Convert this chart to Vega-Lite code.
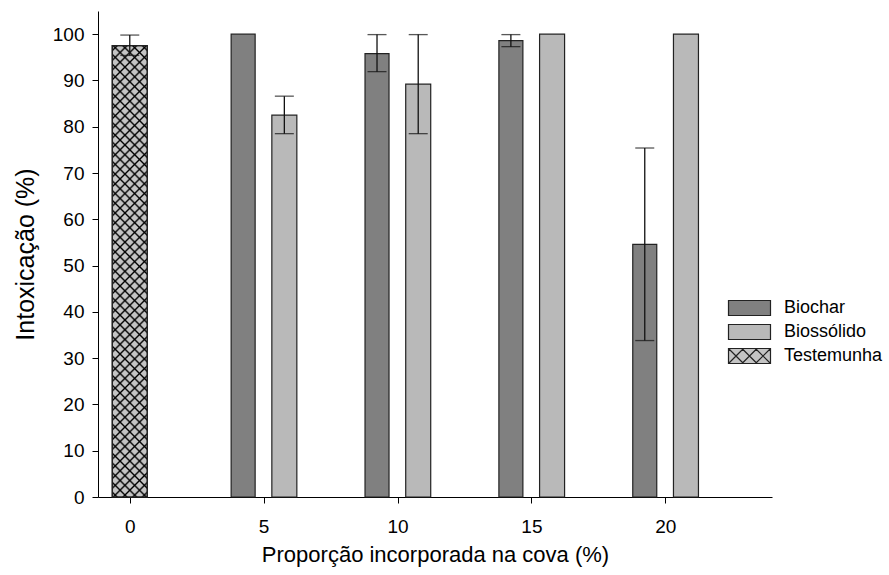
{
  "$schema": "https://vega.github.io/schema/vega-lite/v6.json",
  "width": 674,
  "height": 486,
  "autosize": {"type": "none"},
  "padding": {"left": 98, "top": 11, "right": 117, "bottom": 78},
  "background": "white",
  "config": {
    "font": "Liberation Sans",
    "view": {"stroke": null},
    "axis": {
      "grid": false,
      "domainColor": "#000000",
      "domainWidth": 1,
      "tickColor": "#000000",
      "tickWidth": 1,
      "tickSize": 6,
      "labelColor": "#000000",
      "labelFontSize": 19,
      "titleColor": "#000000",
      "titleFontWeight": "normal"
    }
  },
  "data": {
    "values": [
      {"proporcao": 0, "tratamento": "Testemunha", "media": 97.5, "inf": 95.4, "sup": 99.8},
      {"proporcao": 5, "tratamento": "Biochar", "media": 100, "inf": null, "sup": null},
      {"proporcao": 5, "tratamento": "Biossólido", "media": 82.5, "inf": 78.5, "sup": 86.6},
      {"proporcao": 10, "tratamento": "Biochar", "media": 95.8, "inf": 91.9, "sup": 99.9},
      {"proporcao": 10, "tratamento": "Biossólido", "media": 89.2, "inf": 78.5, "sup": 99.9},
      {"proporcao": 15, "tratamento": "Biochar", "media": 98.6, "inf": 97.3, "sup": 99.9},
      {"proporcao": 15, "tratamento": "Biossólido", "media": 100, "inf": null, "sup": null},
      {"proporcao": 20, "tratamento": "Biochar", "media": 54.6, "inf": 33.8, "sup": 75.4},
      {"proporcao": 20, "tratamento": "Biossólido", "media": 100, "inf": null, "sup": null}
    ]
  },
  "encoding": {
    "x": {
      "field": "proporcao",
      "type": "quantitative",
      "scale": {"domain": [-1, 23.8], "nice": false, "zero": false},
      "axis": {"values": [0, 5, 10, 15, 20], "labelPadding": 14, "title": "Proporção incorporada na cova (%)", "titleFontSize": 22, "titlePadding": 8}
    }
  },
  "layer": [
    {
      "transform": [{"filter": "datum.tratamento === 'Testemunha'"}],
      "mark": {"type": "bar", "width": 35, "xOffset": 0, "stroke": "#222222", "strokeWidth": 1.2,
        "fill": {"gradient": "linear", "x1": 0, "y1": 0, "x2": 0.0831, "y2": 1.0712, "stops": [
          {"offset":0.006,"color":"#c4c4c4"},{"offset":0.01,"color":"#000"},{"offset":0.014,"color":"#c4c4c4"},
          {"offset":0.026,"color":"#c4c4c4"},{"offset":0.03,"color":"#000"},{"offset":0.034,"color":"#c4c4c4"},
          {"offset":0.046,"color":"#c4c4c4"},{"offset":0.05,"color":"#000"},{"offset":0.054,"color":"#c4c4c4"},
          {"offset":0.066,"color":"#c4c4c4"},{"offset":0.07,"color":"#000"},{"offset":0.074,"color":"#c4c4c4"},
          {"offset":0.086,"color":"#c4c4c4"},{"offset":0.09,"color":"#000"},{"offset":0.094,"color":"#c4c4c4"},
          {"offset":0.106,"color":"#c4c4c4"},{"offset":0.11,"color":"#000"},{"offset":0.114,"color":"#c4c4c4"},
          {"offset":0.126,"color":"#c4c4c4"},{"offset":0.13,"color":"#000"},{"offset":0.134,"color":"#c4c4c4"},
          {"offset":0.146,"color":"#c4c4c4"},{"offset":0.15,"color":"#000"},{"offset":0.154,"color":"#c4c4c4"},
          {"offset":0.166,"color":"#c4c4c4"},{"offset":0.17,"color":"#000"},{"offset":0.174,"color":"#c4c4c4"},
          {"offset":0.186,"color":"#c4c4c4"},{"offset":0.19,"color":"#000"},{"offset":0.194,"color":"#c4c4c4"},
          {"offset":0.206,"color":"#c4c4c4"},{"offset":0.21,"color":"#000"},{"offset":0.214,"color":"#c4c4c4"},
          {"offset":0.226,"color":"#c4c4c4"},{"offset":0.23,"color":"#000"},{"offset":0.234,"color":"#c4c4c4"},
          {"offset":0.246,"color":"#c4c4c4"},{"offset":0.25,"color":"#000"},{"offset":0.254,"color":"#c4c4c4"},
          {"offset":0.266,"color":"#c4c4c4"},{"offset":0.27,"color":"#000"},{"offset":0.274,"color":"#c4c4c4"},
          {"offset":0.286,"color":"#c4c4c4"},{"offset":0.29,"color":"#000"},{"offset":0.294,"color":"#c4c4c4"},
          {"offset":0.306,"color":"#c4c4c4"},{"offset":0.31,"color":"#000"},{"offset":0.314,"color":"#c4c4c4"},
          {"offset":0.326,"color":"#c4c4c4"},{"offset":0.33,"color":"#000"},{"offset":0.334,"color":"#c4c4c4"},
          {"offset":0.346,"color":"#c4c4c4"},{"offset":0.35,"color":"#000"},{"offset":0.354,"color":"#c4c4c4"},
          {"offset":0.366,"color":"#c4c4c4"},{"offset":0.37,"color":"#000"},{"offset":0.374,"color":"#c4c4c4"},
          {"offset":0.386,"color":"#c4c4c4"},{"offset":0.39,"color":"#000"},{"offset":0.394,"color":"#c4c4c4"},
          {"offset":0.406,"color":"#c4c4c4"},{"offset":0.41,"color":"#000"},{"offset":0.414,"color":"#c4c4c4"},
          {"offset":0.426,"color":"#c4c4c4"},{"offset":0.43,"color":"#000"},{"offset":0.434,"color":"#c4c4c4"},
          {"offset":0.446,"color":"#c4c4c4"},{"offset":0.45,"color":"#000"},{"offset":0.454,"color":"#c4c4c4"},
          {"offset":0.466,"color":"#c4c4c4"},{"offset":0.47,"color":"#000"},{"offset":0.474,"color":"#c4c4c4"},
          {"offset":0.486,"color":"#c4c4c4"},{"offset":0.49,"color":"#000"},{"offset":0.494,"color":"#c4c4c4"},
          {"offset":0.506,"color":"#c4c4c4"},{"offset":0.51,"color":"#000"},{"offset":0.514,"color":"#c4c4c4"},
          {"offset":0.526,"color":"#c4c4c4"},{"offset":0.53,"color":"#000"},{"offset":0.534,"color":"#c4c4c4"},
          {"offset":0.546,"color":"#c4c4c4"},{"offset":0.55,"color":"#000"},{"offset":0.554,"color":"#c4c4c4"},
          {"offset":0.566,"color":"#c4c4c4"},{"offset":0.57,"color":"#000"},{"offset":0.574,"color":"#c4c4c4"},
          {"offset":0.586,"color":"#c4c4c4"},{"offset":0.59,"color":"#000"},{"offset":0.594,"color":"#c4c4c4"},
          {"offset":0.606,"color":"#c4c4c4"},{"offset":0.61,"color":"#000"},{"offset":0.614,"color":"#c4c4c4"},
          {"offset":0.626,"color":"#c4c4c4"},{"offset":0.63,"color":"#000"},{"offset":0.634,"color":"#c4c4c4"},
          {"offset":0.646,"color":"#c4c4c4"},{"offset":0.65,"color":"#000"},{"offset":0.654,"color":"#c4c4c4"},
          {"offset":0.666,"color":"#c4c4c4"},{"offset":0.67,"color":"#000"},{"offset":0.674,"color":"#c4c4c4"},
          {"offset":0.686,"color":"#c4c4c4"},{"offset":0.69,"color":"#000"},{"offset":0.694,"color":"#c4c4c4"},
          {"offset":0.706,"color":"#c4c4c4"},{"offset":0.71,"color":"#000"},{"offset":0.714,"color":"#c4c4c4"},
          {"offset":0.726,"color":"#c4c4c4"},{"offset":0.73,"color":"#000"},{"offset":0.734,"color":"#c4c4c4"},
          {"offset":0.746,"color":"#c4c4c4"},{"offset":0.75,"color":"#000"},{"offset":0.754,"color":"#c4c4c4"},
          {"offset":0.766,"color":"#c4c4c4"},{"offset":0.77,"color":"#000"},{"offset":0.774,"color":"#c4c4c4"},
          {"offset":0.786,"color":"#c4c4c4"},{"offset":0.79,"color":"#000"},{"offset":0.794,"color":"#c4c4c4"},
          {"offset":0.806,"color":"#c4c4c4"},{"offset":0.81,"color":"#000"},{"offset":0.814,"color":"#c4c4c4"},
          {"offset":0.826,"color":"#c4c4c4"},{"offset":0.83,"color":"#000"},{"offset":0.834,"color":"#c4c4c4"},
          {"offset":0.846,"color":"#c4c4c4"},{"offset":0.85,"color":"#000"},{"offset":0.854,"color":"#c4c4c4"},
          {"offset":0.866,"color":"#c4c4c4"},{"offset":0.87,"color":"#000"},{"offset":0.874,"color":"#c4c4c4"},
          {"offset":0.886,"color":"#c4c4c4"},{"offset":0.89,"color":"#000"},{"offset":0.894,"color":"#c4c4c4"},
          {"offset":0.906,"color":"#c4c4c4"},{"offset":0.91,"color":"#000"},{"offset":0.914,"color":"#c4c4c4"},
          {"offset":0.926,"color":"#c4c4c4"},{"offset":0.93,"color":"#000"},{"offset":0.934,"color":"#c4c4c4"},
          {"offset":0.946,"color":"#c4c4c4"},{"offset":0.95,"color":"#000"},{"offset":0.954,"color":"#c4c4c4"},
          {"offset":0.966,"color":"#c4c4c4"},{"offset":0.97,"color":"#000"},{"offset":0.974,"color":"#c4c4c4"},
          {"offset":0.986,"color":"#c4c4c4"},{"offset":0.99,"color":"#000"},{"offset":0.994,"color":"#c4c4c4"}
        ]}},
      "encoding": {
        "y": {"field": "media", "type": "quantitative", "scale": {"domain": [0, 105], "nice": false}, "axis": {"values": [0, 10, 20, 30, 40, 50, 60, 70, 80, 90, 100], "labelPadding": 8, "title": "Intoxicação (%)", "titleFontSize": 25, "titlePadding": 14}}
      }
    },
    {
      "transform": [{"filter": "datum.tratamento === 'Testemunha'"}],
      "mark": {"type": "bar", "width": 35, "xOffset": 0, "stroke": "#222222", "strokeWidth": 1.2,
        "fill": {"gradient": "linear", "x1": 0, "y1": 1, "x2": 0.0831, "y2": -0.0712, "stops": [
          {"offset":0.006,"color":"rgba(0,0,0,0)"},{"offset":0.01,"color":"#000"},{"offset":0.014,"color":"rgba(0,0,0,0)"},
          {"offset":0.026,"color":"rgba(0,0,0,0)"},{"offset":0.03,"color":"#000"},{"offset":0.034,"color":"rgba(0,0,0,0)"},
          {"offset":0.046,"color":"rgba(0,0,0,0)"},{"offset":0.05,"color":"#000"},{"offset":0.054,"color":"rgba(0,0,0,0)"},
          {"offset":0.066,"color":"rgba(0,0,0,0)"},{"offset":0.07,"color":"#000"},{"offset":0.074,"color":"rgba(0,0,0,0)"},
          {"offset":0.086,"color":"rgba(0,0,0,0)"},{"offset":0.09,"color":"#000"},{"offset":0.094,"color":"rgba(0,0,0,0)"},
          {"offset":0.106,"color":"rgba(0,0,0,0)"},{"offset":0.11,"color":"#000"},{"offset":0.114,"color":"rgba(0,0,0,0)"},
          {"offset":0.126,"color":"rgba(0,0,0,0)"},{"offset":0.13,"color":"#000"},{"offset":0.134,"color":"rgba(0,0,0,0)"},
          {"offset":0.146,"color":"rgba(0,0,0,0)"},{"offset":0.15,"color":"#000"},{"offset":0.154,"color":"rgba(0,0,0,0)"},
          {"offset":0.166,"color":"rgba(0,0,0,0)"},{"offset":0.17,"color":"#000"},{"offset":0.174,"color":"rgba(0,0,0,0)"},
          {"offset":0.186,"color":"rgba(0,0,0,0)"},{"offset":0.19,"color":"#000"},{"offset":0.194,"color":"rgba(0,0,0,0)"},
          {"offset":0.206,"color":"rgba(0,0,0,0)"},{"offset":0.21,"color":"#000"},{"offset":0.214,"color":"rgba(0,0,0,0)"},
          {"offset":0.226,"color":"rgba(0,0,0,0)"},{"offset":0.23,"color":"#000"},{"offset":0.234,"color":"rgba(0,0,0,0)"},
          {"offset":0.246,"color":"rgba(0,0,0,0)"},{"offset":0.25,"color":"#000"},{"offset":0.254,"color":"rgba(0,0,0,0)"},
          {"offset":0.266,"color":"rgba(0,0,0,0)"},{"offset":0.27,"color":"#000"},{"offset":0.274,"color":"rgba(0,0,0,0)"},
          {"offset":0.286,"color":"rgba(0,0,0,0)"},{"offset":0.29,"color":"#000"},{"offset":0.294,"color":"rgba(0,0,0,0)"},
          {"offset":0.306,"color":"rgba(0,0,0,0)"},{"offset":0.31,"color":"#000"},{"offset":0.314,"color":"rgba(0,0,0,0)"},
          {"offset":0.326,"color":"rgba(0,0,0,0)"},{"offset":0.33,"color":"#000"},{"offset":0.334,"color":"rgba(0,0,0,0)"},
          {"offset":0.346,"color":"rgba(0,0,0,0)"},{"offset":0.35,"color":"#000"},{"offset":0.354,"color":"rgba(0,0,0,0)"},
          {"offset":0.366,"color":"rgba(0,0,0,0)"},{"offset":0.37,"color":"#000"},{"offset":0.374,"color":"rgba(0,0,0,0)"},
          {"offset":0.386,"color":"rgba(0,0,0,0)"},{"offset":0.39,"color":"#000"},{"offset":0.394,"color":"rgba(0,0,0,0)"},
          {"offset":0.406,"color":"rgba(0,0,0,0)"},{"offset":0.41,"color":"#000"},{"offset":0.414,"color":"rgba(0,0,0,0)"},
          {"offset":0.426,"color":"rgba(0,0,0,0)"},{"offset":0.43,"color":"#000"},{"offset":0.434,"color":"rgba(0,0,0,0)"},
          {"offset":0.446,"color":"rgba(0,0,0,0)"},{"offset":0.45,"color":"#000"},{"offset":0.454,"color":"rgba(0,0,0,0)"},
          {"offset":0.466,"color":"rgba(0,0,0,0)"},{"offset":0.47,"color":"#000"},{"offset":0.474,"color":"rgba(0,0,0,0)"},
          {"offset":0.486,"color":"rgba(0,0,0,0)"},{"offset":0.49,"color":"#000"},{"offset":0.494,"color":"rgba(0,0,0,0)"},
          {"offset":0.506,"color":"rgba(0,0,0,0)"},{"offset":0.51,"color":"#000"},{"offset":0.514,"color":"rgba(0,0,0,0)"},
          {"offset":0.526,"color":"rgba(0,0,0,0)"},{"offset":0.53,"color":"#000"},{"offset":0.534,"color":"rgba(0,0,0,0)"},
          {"offset":0.546,"color":"rgba(0,0,0,0)"},{"offset":0.55,"color":"#000"},{"offset":0.554,"color":"rgba(0,0,0,0)"},
          {"offset":0.566,"color":"rgba(0,0,0,0)"},{"offset":0.57,"color":"#000"},{"offset":0.574,"color":"rgba(0,0,0,0)"},
          {"offset":0.586,"color":"rgba(0,0,0,0)"},{"offset":0.59,"color":"#000"},{"offset":0.594,"color":"rgba(0,0,0,0)"},
          {"offset":0.606,"color":"rgba(0,0,0,0)"},{"offset":0.61,"color":"#000"},{"offset":0.614,"color":"rgba(0,0,0,0)"},
          {"offset":0.626,"color":"rgba(0,0,0,0)"},{"offset":0.63,"color":"#000"},{"offset":0.634,"color":"rgba(0,0,0,0)"},
          {"offset":0.646,"color":"rgba(0,0,0,0)"},{"offset":0.65,"color":"#000"},{"offset":0.654,"color":"rgba(0,0,0,0)"},
          {"offset":0.666,"color":"rgba(0,0,0,0)"},{"offset":0.67,"color":"#000"},{"offset":0.674,"color":"rgba(0,0,0,0)"},
          {"offset":0.686,"color":"rgba(0,0,0,0)"},{"offset":0.69,"color":"#000"},{"offset":0.694,"color":"rgba(0,0,0,0)"},
          {"offset":0.706,"color":"rgba(0,0,0,0)"},{"offset":0.71,"color":"#000"},{"offset":0.714,"color":"rgba(0,0,0,0)"},
          {"offset":0.726,"color":"rgba(0,0,0,0)"},{"offset":0.73,"color":"#000"},{"offset":0.734,"color":"rgba(0,0,0,0)"},
          {"offset":0.746,"color":"rgba(0,0,0,0)"},{"offset":0.75,"color":"#000"},{"offset":0.754,"color":"rgba(0,0,0,0)"},
          {"offset":0.766,"color":"rgba(0,0,0,0)"},{"offset":0.77,"color":"#000"},{"offset":0.774,"color":"rgba(0,0,0,0)"},
          {"offset":0.786,"color":"rgba(0,0,0,0)"},{"offset":0.79,"color":"#000"},{"offset":0.794,"color":"rgba(0,0,0,0)"},
          {"offset":0.806,"color":"rgba(0,0,0,0)"},{"offset":0.81,"color":"#000"},{"offset":0.814,"color":"rgba(0,0,0,0)"},
          {"offset":0.826,"color":"rgba(0,0,0,0)"},{"offset":0.83,"color":"#000"},{"offset":0.834,"color":"rgba(0,0,0,0)"},
          {"offset":0.846,"color":"rgba(0,0,0,0)"},{"offset":0.85,"color":"#000"},{"offset":0.854,"color":"rgba(0,0,0,0)"},
          {"offset":0.866,"color":"rgba(0,0,0,0)"},{"offset":0.87,"color":"#000"},{"offset":0.874,"color":"rgba(0,0,0,0)"},
          {"offset":0.886,"color":"rgba(0,0,0,0)"},{"offset":0.89,"color":"#000"},{"offset":0.894,"color":"rgba(0,0,0,0)"},
          {"offset":0.906,"color":"rgba(0,0,0,0)"},{"offset":0.91,"color":"#000"},{"offset":0.914,"color":"rgba(0,0,0,0)"},
          {"offset":0.926,"color":"rgba(0,0,0,0)"},{"offset":0.93,"color":"#000"},{"offset":0.934,"color":"rgba(0,0,0,0)"},
          {"offset":0.946,"color":"rgba(0,0,0,0)"},{"offset":0.95,"color":"#000"},{"offset":0.954,"color":"rgba(0,0,0,0)"},
          {"offset":0.966,"color":"rgba(0,0,0,0)"},{"offset":0.97,"color":"#000"},{"offset":0.974,"color":"rgba(0,0,0,0)"},
          {"offset":0.986,"color":"rgba(0,0,0,0)"},{"offset":0.99,"color":"#000"},{"offset":0.994,"color":"rgba(0,0,0,0)"}
        ]}},
      "encoding": {
        "y": {"field": "media", "type": "quantitative"}
      }
    },
    {
      "transform": [{"filter": "datum.tratamento === 'Biochar'"}],
      "mark": {"type": "bar", "width": 24, "xOffset": -20.5, "stroke": "#222222", "strokeWidth": 1.2},
      "encoding": {
        "y": {"field": "media", "type": "quantitative"},
        "fill": {"field": "tratamento", "type": "nominal", "scale": {"domain": ["Biochar", "Biossólido", "Testemunha"], "range": ["#808080", "#b9b9b9", "#c4c4c4"]},
          "legend": {"title": null, "orient": "none", "legendX": 629, "legendY": 288,
            "symbolType": "M-1,-1L4.6,-1L4.6,1L-1,1Z", "symbolSize": 225, "symbolStrokeColor": "#222222", "symbolStrokeWidth": 1.2,
            "labelFontSize": 18, "labelColor": "#000000", "labelOffset": 39, "rowPadding": 4,
            "encode": {"symbols": {"update": {"shape": {"signal": "datum.value === 'Testemunha' ? 'M-1,-1L4.6,-1L4.6,1L-1,1Z M-1,-1L1,1 M0.8,-1L2.8,1 M2.6,-1L4.6,1 M-1,1L1,-1 M0.8,1L2.8,-1 M2.6,1L4.6,-1' : 'M-1,-1L4.6,-1L4.6,1L-1,1Z'"}}}}}}
      }
    },
    {
      "transform": [{"filter": "datum.tratamento === 'Biossólido'"}],
      "mark": {"type": "bar", "width": 25, "xOffset": 20.7, "stroke": "#222222", "strokeWidth": 1.2},
      "encoding": {
        "y": {"field": "media", "type": "quantitative"},
        "fill": {"field": "tratamento", "type": "nominal"}
      }
    },
    {
      "transform": [{"filter": "datum.tratamento === 'Testemunha' && datum.sup != null"}],
      "mark": {"type": "rule", "xOffset": 0, "color": "#111111", "strokeWidth": 1.3},
      "encoding": {"y": {"field": "inf", "type": "quantitative"}, "y2": {"field": "sup"}}
    },
    {
      "transform": [{"filter": "datum.tratamento === 'Biochar' && datum.sup != null"}],
      "mark": {"type": "rule", "xOffset": -20.5, "color": "#111111", "strokeWidth": 1.3},
      "encoding": {"y": {"field": "inf", "type": "quantitative"}, "y2": {"field": "sup"}}
    },
    {
      "transform": [{"filter": "datum.tratamento === 'Biossólido' && datum.sup != null"}],
      "mark": {"type": "rule", "xOffset": 20.7, "color": "#111111", "strokeWidth": 1.3},
      "encoding": {"y": {"field": "inf", "type": "quantitative"}, "y2": {"field": "sup"}}
    },
    {
      "transform": [{"filter": "datum.tratamento === 'Testemunha' && datum.sup != null"}, {"fold": ["inf", "sup"], "as": ["limite", "valor"]}],
      "mark": {"type": "tick", "orient": "horizontal", "size": 19, "thickness": 1.3, "xOffset": 0, "color": "#111111"},
      "encoding": {"y": {"field": "valor", "type": "quantitative"}}
    },
    {
      "transform": [{"filter": "datum.tratamento === 'Biochar' && datum.sup != null"}, {"fold": ["inf", "sup"], "as": ["limite", "valor"]}],
      "mark": {"type": "tick", "orient": "horizontal", "size": 19, "thickness": 1.3, "xOffset": -20.5, "color": "#111111"},
      "encoding": {"y": {"field": "valor", "type": "quantitative"}}
    },
    {
      "transform": [{"filter": "datum.tratamento === 'Biossólido' && datum.sup != null"}, {"fold": ["inf", "sup"], "as": ["limite", "valor"]}],
      "mark": {"type": "tick", "orient": "horizontal", "size": 19, "thickness": 1.3, "xOffset": 20.7, "color": "#111111"},
      "encoding": {"y": {"field": "valor", "type": "quantitative"}}
    }
  ]
}
